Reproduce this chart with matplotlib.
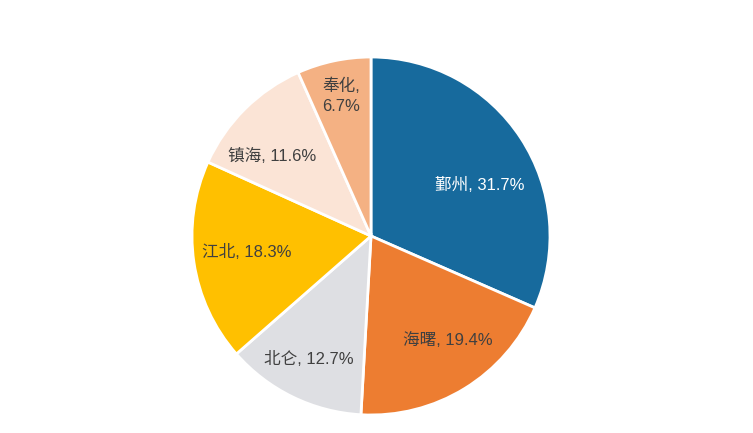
import matplotlib.pyplot as plt
import numpy as np

plt.rcParams['font.family'] = ['Liberation Sans', 'Noto Sans CJK SC', 'DejaVu Sans']

# 各区占比
names = ['鄞州', '海曙', '北仑', '江北', '镇海', '奉化']
shares = [31.7, 19.4, 12.7, 18.3, 11.6, 6.7]
colors = ['#176a9d', '#ed7d31', '#dedfe3', '#ffc000', '#fbe4d6', '#f4b183']
text_colors = ['white', '#404040', '#404040', '#404040', '#404040', '#404040']
label_dist = [0.67, 0.72, 0.77, 0.70, 0.71, 0.80]
label_shift = [-8, 5, -1, -1, 6, 0]  # 角度微调

fig = plt.figure(figsize=(7.53, 4.33), dpi=100)
ax = fig.add_axes([192 / 753, 18 / 433, 358 / 753, 358 / 433])

wedges, _ = ax.pie(shares, colors=colors, startangle=90, counterclock=False,
                   wedgeprops=dict(edgecolor='white', linewidth=2))

total = sum(shares)
ang = 90.0
for i, (n, s) in enumerate(zip(names, shares)):
    span = s / total * 360
    mid = np.deg2rad(ang - span / 2 + label_shift[i])
    ang -= span
    txt = f'{n}, {s}%'
    if n == '奉化':
        txt = f'{n},\n{s}%'
    ax.text(label_dist[i] * np.cos(mid), label_dist[i] * np.sin(mid), txt,
            ha='center', va='center', fontsize=12, color=text_colors[i],
            linespacing=1.4)

ax.set_xlim(-1, 1)
ax.set_ylim(-1, 1)
ax.set_aspect('auto')
ax.axis('off')

plt.savefig('out.png', dpi=100)
